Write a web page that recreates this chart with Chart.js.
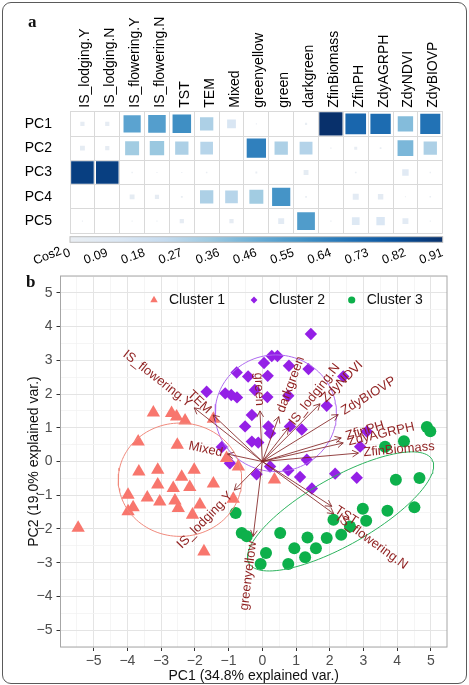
<!DOCTYPE html>
<html>
<head>
<meta charset="utf-8">
<script src="https://cdn.jsdelivr.net/npm/chart.js@4.4.0/dist/chart.umd.min.js"></script>
<style>
  html, body { margin: 0; padding: 0; background: #fff; }
  #wrap { position: relative; width: 469px; height: 685px; overflow: hidden; }
  canvas { position: absolute; left: 0; top: 0; }
  #frame { position: absolute; left: 2px; top: 2px; width: 465px; height: 682px; box-sizing: border-box;
           border: 1.5px solid #5a5a5a; border-radius: 9px; }
  .tag { position: absolute; font-family: "Liberation Serif", "DejaVu Serif", serif; font-weight: bold; font-size: 17px; color: #111; }
</style>
</head>
<body>
<div id="wrap">
  <div id="frame"></div>
  <canvas id="pca" width="469" height="685"></canvas>
  <canvas id="heat" width="469" height="685"></canvas>
  <div class="tag" style="left:28px; top:12px;">a</div>
  <div class="tag" style="left:26px; top:272px;">b</div>
</div>
<script>
// ---- panel a : cos2 of variables on PC1..PC5 ----
const variables = ['IS_lodging.Y', 'IS_lodging.N', 'IS_flowering.Y', 'IS_flowering.N', 'TST', 'TEM', 'Mixed',
    'greenyellow', 'green', 'darkgreen', 'ZfinBiomass', 'ZfinPH', 'ZdyAGRPH', 'ZdyNDVI', 'ZdyBIOVP'];
const components = ['PC1', 'PC2', 'PC3', 'PC4', 'PC5'];
const cos2PC1 = [0.03, 0.03, 0.50, 0.52, 0.58, 0.30, 0.13, 0.002, 0.0, 0.008, 0.91, 0.72, 0.70, 0.40, 0.68];
const cos2PC2 = [0.04, 0.03, 0.33, 0.35, 0.30, 0.27, 0.0, 0.63, 0.30, 0.28, 0.003, 0.015, 0.005, 0.42, 0.30];
const cos2PC3 = [0.86, 0.86, 0.003, 0.002, 0.002, 0.004, 0.0, 0.006, 0.0, 0.04, 0.0, 0.005, 0.0, 0.07, 0.003];
const cos2PC4 = [0.0, 0.0, 0.04, 0.03, 0.006, 0.30, 0.27, 0.33, 0.56, 0.005, 0.0, 0.06, 0.05, 0.002, 0.004];
const cos2PC5 = [0.002, 0.0, 0.002, 0.002, 0.03, 0.0, 0.03, 0.0, 0.06, 0.53, 0.003, 0.10, 0.12, 0.06, 0.002];
const cos2Max = 0.91;
const colorbarLabels = ['0', '0.09', '0.18', '0.27', '0.36', '0.46', '0.55', '0.64', '0.73', '0.82', '0.91'];

// ---- panel b : PCA biplot ----
const cluster1 = [[-3.23, 1.45], [-2.69, 1.43], [-2.54, 1.33], [-2.29, 1.21], [-1.45, 1.26], [-3.68, 0.59], [-2.52, 0.49],
    [-1.06, 0.10], [-0.71, -0.15], [-3.66, -0.30], [-3.10, -0.25], [-2.02, -0.25], [-2.39, -0.46], [-3.10, -0.69],
    [-2.64, -0.79], [-2.15, -0.76], [-1.45, -0.66], [-3.98, -0.99], [-3.41, -1.07], [-3.04, -1.19], [-2.59, -1.16],
    [-3.83, -1.36], [-3.98, -1.48], [-2.49, -1.38], [-1.85, -1.28], [-2.07, -1.58], [-0.86, -1.11], [-5.46, -1.97],
    [-1.73, -2.67], [0.36, -0.54]];
const cluster2 = [[1.44, 3.78], [0.28, 3.13], [0.45, 3.13], [0.05, 2.92], [0.79, 2.84], [1.37, 2.74], [-0.76, 2.64],
    [-0.42, 2.52], [0.16, 2.54], [2.40, 2.52], [-1.65, 2.07], [-1.10, 2.02], [-0.92, 1.97], [-0.75, 1.90], [-0.22, 2.12],
    [0.15, 1.91], [0.77, 1.95], [1.91, 1.65], [-0.31, 1.38], [-0.51, 1.04], [0.18, 1.04], [0.23, 0.84], [0.82, 1.04],
    [1.17, 0.95], [-0.31, 0.59], [-0.12, 0.56], [-1.20, 0.43], [-0.96, -0.05], [1.32, 0.05], [0.23, -0.15],
    [-0.17, -0.38], [0.77, -0.26], [1.12, -0.46], [1.47, -0.80], [2.16, -0.36], [2.80, -0.48], [2.90, 0.44], [3.10, 0.89]];
const cluster3 = [[4.88, 1.02], [4.98, 0.90], [4.20, 0.60], [3.64, 0.44], [3.96, -0.54], [4.66, -0.49], [2.98, -1.40],
    [3.71, -1.46], [4.51, -1.36], [3.08, -1.76], [2.11, -1.73], [2.60, -1.93], [2.34, -2.17], [1.91, -2.27],
    [1.34, -2.25], [1.59, -2.57], [0.95, -2.57], [1.27, -2.84], [0.53, -2.12], [0.11, -2.71], [-0.05, -3.04],
    [0.77, -3.04], [-0.79, -1.53], [-0.61, -2.12], [-0.46, -2.22]];
const clusterNames = ['Cluster 1', 'Cluster 2', 'Cluster 3'];

// ellipses (centre, semi-axes, tilt in degrees) per cluster
const ellipseCx = [-2.44, 0.40, 2.32];
const ellipseCy = [-0.54, 1.43, -1.48];
const ellipseRx = [1.83, 1.80, 3.12];
const ellipseRy = [1.68, 1.73, 1.00];
const ellipseTilt = [0, 0, 29.5];

// variable loadings (arrow tips)
const loadingNames = ['IS_flowering.Y', 'TEM', 'Mixed', 'IS_lodging.Y', 'greenyellow', 'green', 'darkgreen',
    'IS_lodging.N', 'ZdyNDVI', 'ZdyBIOVP', 'ZfinPH', 'ZdyAGRPH', 'ZfinBiomass', 'TST', 'IS_flowering.N'];
const loadingX = [-2.02, -1.46, -1.03, -0.83, -0.27, -0.07, 0.49, 0.78, 1.71, 2.25, 2.34, 2.40, 2.85, 2.06, 2.12];
const loadingY = [1.59, 1.38, 0.22, -0.85, -2.22, 1.50, 1.33, 1.00, 1.71, 1.39, 0.70, 0.55, 0.25, -1.33, -1.55];

const gridSteps = [-5.5, -5, -4.5, -4, -3.5, -3, -2.5, -2, -1.5, -1, -0.5, 0, 0.5, 1, 1.5, 2, 2.5, 3, 3.5, 4, 4.5, 5, 5.5];

Chart.defaults.font.family = '"Liberation Sans", Arial, sans-serif';

const bluesStops = ['#EAEEF3', '#DCE8F4', '#C6DBEF', '#9ECAE1', '#6BAED6', '#4292C6', '#2171B5', '#08519C', '#08306B'];

function hexToRgb(h) {
    return [parseInt(h.slice(1, 3), 16), parseInt(h.slice(3, 5), 16), parseInt(h.slice(5, 7), 16)];
}

function blues(t) {
    t = Math.max(0, Math.min(1, t));
    const p = t * (bluesStops.length - 1);
    const i = Math.min(Math.floor(p), bluesStops.length - 2);
    const f = p - i;
    const a = hexToRgb(bluesStops[i]), b = hexToRgb(bluesStops[i + 1]);
    const c = a.map((v, k) => Math.round(v + (b[k] - v) * f));
    return `rgb(${c[0]},${c[1]},${c[2]})`;
}

// heatmap cells
const cos2Rows = [cos2PC1, cos2PC2, cos2PC3, cos2PC4, cos2PC5];
const cells = [];
components.forEach((pc, r) => {
    variables.forEach((name, c) => {
        cells.push({ x: name, y: pc, v: cos2Rows[r][c] });
    });
});

function cellRadius(ctx) {
    if (!ctx.raw) return 0;
    const side = 23.2 * Math.sqrt(ctx.raw.v / cos2Max);
    return side / Math.SQRT2;
}

const colorbarPlugin = {
    id: 'colorbar',
    afterDraw(chart) {
        const ctx = chart.ctx;
        const cb = chart.scales.cb;
        const top = chart.chartArea.bottom + 3.4;
        const grad = ctx.createLinearGradient(cb.left, 0, cb.right, 0);
        for (let i = 0; i <= 40; i++) grad.addColorStop(i / 40, blues(i / 40));
        ctx.save();
        ctx.fillStyle = grad;
        ctx.fillRect(cb.left, top, cb.right - cb.left, 5.6);
        ctx.strokeStyle = '#bdbdbd';
        ctx.lineWidth = 1;
        ctx.strokeRect(cb.left, top, cb.right - cb.left, 5.6);
        // "Cos2" title of the colour bar
        ctx.translate(cb.left - 9, top + 14);
        ctx.rotate(-22 * Math.PI / 180);
        ctx.fillStyle = '#000';
        ctx.font = '12.5px "Liberation Sans", Arial, sans-serif';
        ctx.textAlign = 'right';
        ctx.textBaseline = 'middle';
        ctx.fillText('Cos2', 0, 0);
        ctx.restore();
    }
};

new Chart(document.getElementById('heat'), {
    type: 'scatter',
    data: {
        datasets: [{
            data: cells,
            pointStyle: 'rect',
            pointRadius: cellRadius,
            pointHoverRadius: cellRadius,
            backgroundColor: ctx => ctx.raw ? blues(ctx.raw.v / cos2Max) : '#fff',
            borderWidth: 0
        }]
    },
    options: {
        responsive: false,
        animation: false,
        events: [],
        layout: { padding: { left: 0, top: 0, right: 26.3, bottom: 685 - 233.3 - 36.7 } },
        plugins: { legend: { display: false }, tooltip: { enabled: false } },
        scales: {
            x: {
                type: 'category',
                labels: variables,
                position: 'top',
                offset: true,
                grid: { offset: true, color: '#d9d9d9', drawTicks: false },
                border: { color: '#d9d9d9' },
                ticks: { minRotation: 90, maxRotation: 90, autoSkip: false, padding: 4, labelOffset: 20, color: '#000', font: { size: 14 } },
                afterFit: s => { s.height = 111.7; }
            },
            y: {
                type: 'category',
                labels: components,
                offset: true,
                grid: { offset: true, color: '#d9d9d9', drawTicks: false },
                border: { color: '#d9d9d9' },
                ticks: { padding: 18, color: '#000', font: { size: 14 } },
                afterFit: s => { s.width = 70; }
            },
            cb: {
                axis: 'x',
                type: 'linear',
                position: 'bottom',
                min: 0,
                max: cos2Max,
                grid: { display: false, drawTicks: false },
                border: { display: false },
                afterBuildTicks: s => { s.ticks = colorbarLabels.map((t, i) => ({ value: i * cos2Max / 10 })); },
                ticks: {
                    minRotation: 20, maxRotation: 20, autoSkip: false, padding: 12, color: '#000',
                    font: { size: 12.5 },
                    callback: (v, i) => colorbarLabels[i]
                },
                afterFit: s => { s.height = 36.7; }
            }
        }
    },
    plugins: [colorbarPlugin]
});

// ---- biplot ----
function ellipseOutline(k) {
    const pts = [];
    const rot = ellipseTilt[k] * Math.PI / 180;
    for (let j = 0; j <= 120; j++) {
        const t = 2 * Math.PI * j / 120;
        const u = ellipseRx[k] * Math.cos(t), w = ellipseRy[k] * Math.sin(t);
        pts.push({ x: ellipseCx[k] + u * Math.cos(rot) - w * Math.sin(rot), y: ellipseCy[k] + u * Math.sin(rot) + w * Math.cos(rot) });
    }
    return pts;
}

const pointColors = ['#F8766D', '#9420E6', '#0DB04B'];
const ellipseColors = ['#F08a7d', '#AE6AF0', '#2DB35E'];
const pointStyles = ['triangle', 'rectRot', 'circle'];
const pointSizes = [7.7, 6.2, 6];
const clusters = [cluster1, cluster2, cluster3];

const datasets = [];
clusters.forEach((pts, k) => {
    datasets.push({
        label: clusterNames[k],
        data: pts.map(p => ({ x: p[0], y: p[1] })),
        pointStyle: pointStyles[k],
        pointRadius: pointSizes[k],
        pointHoverRadius: pointSizes[k],
        backgroundColor: pointColors[k],
        borderWidth: 0,
        order: 2
    });
    datasets.push({
        label: clusterNames[k] + ' ellipse',
        data: ellipseOutline(k),
        showLine: true,
        pointRadius: 0,
        borderColor: ellipseColors[k],
        borderWidth: 1,
        fill: false,
        order: 1
    });
});

function minusFmt(v) {
    return v < 0 ? '\u2212' + Math.abs(v) : String(v);
}

const biplotPlugin = {
    id: 'biplot',
    beforeDatasetsDraw(chart) {
        const { ctx, chartArea } = chart;
        ctx.save();
        ctx.strokeStyle = '#a6a6a6';
        ctx.lineWidth = 1;
        ctx.strokeRect(chartArea.left, chartArea.top, chartArea.right - chartArea.left, chartArea.bottom - chartArea.top);
        ctx.restore();
    },
    afterDatasetsDraw(chart) {
        const { ctx, chartArea } = chart;
        const xs = chart.scales.x, ys = chart.scales.y;
        const ox = xs.getPixelForValue(0), oy = ys.getPixelForValue(0);
        ctx.save();
        // arrows
        ctx.strokeStyle = 'rgba(131,36,36,0.85)';
        ctx.lineWidth = 1;
        loadingNames.forEach((name, i) => {
            const tx = xs.getPixelForValue(loadingX[i]), ty = ys.getPixelForValue(loadingY[i]);
            const a = Math.atan2(ty - oy, tx - ox);
            ctx.beginPath();
            ctx.moveTo(ox, oy);
            ctx.lineTo(tx, ty);
            ctx.moveTo(tx - 7 * Math.cos(a - 0.5), ty - 7 * Math.sin(a - 0.5));
            ctx.lineTo(tx, ty);
            ctx.lineTo(tx - 7 * Math.cos(a + 0.5), ty - 7 * Math.sin(a + 0.5));
            ctx.stroke();
        });
        // variable names
        ctx.fillStyle = '#8f1f1f';
        ctx.font = '13px "Liberation Sans", Arial, sans-serif';
        ctx.textBaseline = 'middle';
        loadingNames.forEach((name, i) => {
            const tx = xs.getPixelForValue(loadingX[i]), ty = ys.getPixelForValue(loadingY[i]);
            const len = Math.hypot(tx - ox, ty - oy);
            const ux = (tx - ox) / len, uy = (ty - oy) / len;
            ctx.save();
            ctx.translate(tx + ux * 5, ty + uy * 5);
            ctx.rotate(-Math.atan(loadingY[i] / loadingX[i]));
            ctx.textAlign = loadingX[i] > 0 ? 'left' : 'right';
            ctx.fillText(name, 0, 0);
            ctx.restore();
        });
        // legend
        const legX = [154, 254, 351.7];
        const legSize = [4.3, 3.4, 3.6];
        const ly = chartArea.top + 24;
        ctx.font = '14px "Liberation Sans", Arial, sans-serif';
        ctx.textAlign = 'left';
        clusterNames.forEach((name, k) => {
            const x = legX[k], r = legSize[k];
            ctx.fillStyle = pointColors[k];
            ctx.beginPath();
            if (k === 0) {
                ctx.moveTo(x, ly - r); ctx.lineTo(x + r * 0.866, ly + r * 0.5); ctx.lineTo(x - r * 0.866, ly + r * 0.5);
            } else if (k === 1) {
                ctx.moveTo(x, ly - r); ctx.lineTo(x + r, ly); ctx.lineTo(x, ly + r); ctx.lineTo(x - r, ly);
            } else {
                ctx.arc(x, ly, r, 0, Math.PI * 2);
            }
            ctx.closePath();
            ctx.fill();
            ctx.fillStyle = '#111';
            ctx.fillText(name, x + 15, ly);
        });
        ctx.restore();
    }
};

const isMajor = v => Math.abs(v - Math.round(v)) < 1e-9;

new Chart(document.getElementById('pca'), {
    type: 'scatter',
    data: { datasets: datasets },
    options: {
        responsive: false,
        animation: false,
        events: [],
        layout: { padding: { left: 0, top: 276, right: 22, bottom: 0 } },
        plugins: { legend: { display: false }, tooltip: { enabled: false } },
        scales: {
            x: {
                type: 'linear',
                min: -5.983,
                max: 5.476,
                afterBuildTicks: s => { s.ticks = gridSteps.filter(v => v <= 5.476).map(v => ({ value: v })); },
                grid: {
                    color: c => isMajor(c.tick.value) ? '#e4e4e4' : '#f2f2f2',
                    lineWidth: c => isMajor(c.tick.value) ? 1 : 0.8,
                    tickColor: c => isMajor(c.tick.value) ? '#333' : 'rgba(0,0,0,0)',
                    tickLength: 4
                },
                border: { display: false },
                ticks: {
                    autoSkip: false, maxRotation: 0, padding: 2, color: '#4d4d4d', font: { size: 14 },
                    callback: v => isMajor(v) ? minusFmt(Math.round(v)) : ''
                },
                title: { display: true, text: 'PC1 (34.8% explained var.)', color: '#111', font: { size: 14 }, padding: 0 },
                afterFit: s => { s.height = 38; }
            },
            y: {
                type: 'linear',
                min: -5.5,
                max: 5.5,
                afterBuildTicks: s => { s.ticks = gridSteps.map(v => ({ value: v })); },
                grid: {
                    color: c => isMajor(c.tick.value) ? '#e4e4e4' : '#f2f2f2',
                    lineWidth: c => isMajor(c.tick.value) ? 1 : 0.8,
                    tickColor: c => isMajor(c.tick.value) ? '#333' : 'rgba(0,0,0,0)',
                    tickLength: 4
                },
                border: { display: false },
                ticks: {
                    autoSkip: false, padding: 4, color: '#4d4d4d', font: { size: 14 },
                    callback: v => isMajor(v) ? minusFmt(Math.round(v)) : ''
                },
                title: { display: true, text: 'PC2 (19.0% explained var.)', color: '#111', font: { size: 14 }, padding: { top: 26 } },
                afterFit: s => { s.width = 60.5; }
            }
        }
    },
    plugins: [biplotPlugin]
});
</script>
</body>
</html>
